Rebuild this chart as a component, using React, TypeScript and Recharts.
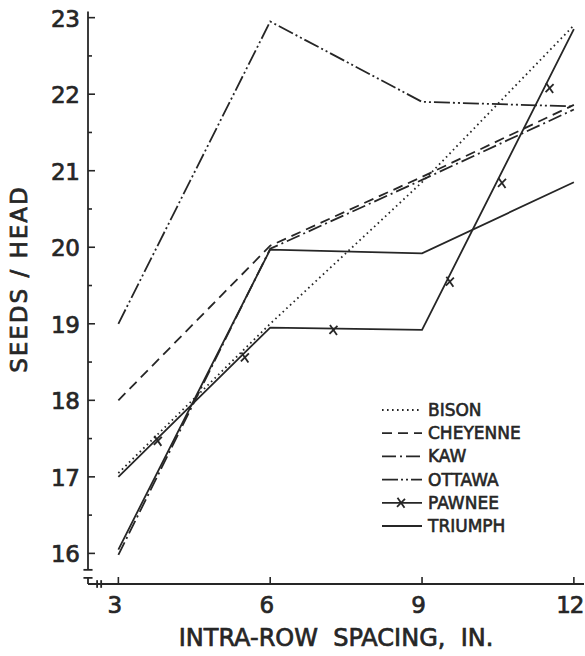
import React from "react";
import {
  ComposedChart,
  Line,
  Scatter,
  XAxis,
  YAxis,
  ReferenceLine,
} from "recharts";

// intra-row spacing (in.) and seeds per head
const spacing = [3, 6, 9, 12];
const bison = [17.05, 19.0, 20.85, 22.9];
const cheyenne = [18.0, 20.02, 20.92, 21.86];
const kaw = [15.98, 19.98, 20.88, 21.8];
const ottawa = [19.0, 22.95, 21.9, 21.84];
const pawnee = [17.0, 18.95, 18.92, 22.85];
const triumph = [16.05, 19.97, 19.92, 20.85];

// positions of the x marks drawn along the Pawnee line
const pawneeMarkX = [3.78, 5.5, 7.25, 9.55, 10.58, 11.52];
const pawneeMarkY = [17.47, 18.56, 18.92, 19.55, 20.84, 22.08];

const xTicks = [3, 6, 9, 12];
const yTicks = [16, 17, 18, 19, 20, 21, 22, 23];
const yMinorTicks = [16.5, 17.5, 18.5, 19.5, 20.5, 21.5, 22.5];

const rows = spacing.map((s, i) => ({
  x: s,
  bison: bison[i],
  cheyenne: cheyenne[i],
  kaw: kaw[i],
  ottawa: ottawa[i],
  pawnee: pawnee[i],
  triumph: triumph[i],
}));
const marks = pawneeMarkX.map((x, i) => ({ x, y: pawneeMarkY[i] }));

const INK = "#262626";
const FONT = "'DejaVu Sans', sans-serif";
const LW = 1.8;

const series = [
  { key: "bison", name: "BISON", dash: "1.6 3.4" },
  { key: "cheyenne", name: "CHEYENNE", dash: "10 6" },
  { key: "kaw", name: "KAW", dash: "14 4 2 4" },
  { key: "ottawa", name: "OTTAWA", dash: "16 3 2 3 2 3" },
  { key: "pawnee", name: "PAWNEE", dash: undefined, mark: true },
  { key: "triumph", name: "TRIUMPH", dash: undefined },
];

const X_MIN = 2.4;
const X_MAX = 12.2;
const Y_MIN = 15.6;
const Y_MAX = 23.1;

// text drawn with a thin outline so it reads as heavy as the lettering
const textInk = { fill: INK, stroke: INK, strokeWidth: 0.7, fontFamily: FONT };

const XMark = (props: any) => {
  const { cx, cy } = props;
  return (
    <g stroke={INK} strokeWidth={LW}>
      <line x1={cx - 3.5} y1={cy - 5} x2={cx + 3.5} y2={cy + 5} />
      <line x1={cx + 4} y1={cy - 4} x2={cx - 4} y2={cy + 4} />
    </g>
  );
};

const YTick = (props: any) => {
  const { x, y, payload } = props;
  const major = yTicks.includes(payload.value);
  return (
    <g>
      <line x1={x} y1={y} x2={x + (major ? 7 : 4)} y2={y} stroke={INK} strokeWidth={1.6} />
      {major && (
        <text x={x - 37} y={y + 9} fontSize={23} textAnchor="start" letterSpacing={-0.5} {...textInk}>
          {payload.value}
        </text>
      )}
    </g>
  );
};

const XTick = (props: any) => {
  const { x, y, payload } = props;
  return (
    <g>
      <line x1={x} y1={y} x2={x} y2={y - 7} stroke={INK} strokeWidth={1.6} />
      <text x={x - 4} y={y + 29} fontSize={23} textAnchor="middle" letterSpacing={-1} {...textInk}>
        {payload.value}
      </text>
    </g>
  );
};

const LegendBox = () => (
  <svg width={200} height={140} style={{ position: "absolute", left: 380, top: 395 }}>
    {series.map((s, i) => {
      const y = 21 + i * 23.2;
      return (
        <g key={s.key}>
          <line x1={2} y1={y - 6} x2={42} y2={y - 6} stroke={INK} strokeWidth={LW} strokeDasharray={s.dash} />
          {s.mark && <XMark cx={21} cy={y - 6} />}
          <text x={48} y={y} fontSize={17} {...textInk} strokeWidth={0.6}>
            {s.name}
          </text>
        </g>
      );
    })}
  </svg>
);

const seg = (x1: number, y1: number, x2: number, y2: number, key: string) => (
  <ReferenceLine
    key={key}
    segment={[{ x: x1, y: y1 }, { x: x2, y: y2 }]}
    stroke={INK}
    strokeWidth={LW}
    ifOverflow="visible"
  />
);

export default function App() {
  return (
    <div style={{ position: "absolute", left: 0, top: 0, width: 585, height: 656, background: "#fff" }}>
      <ComposedChart
        width={585}
        height={656}
        data={rows}
        margin={{ top: 10, right: 1, left: 0, bottom: 0 }}
      >
        <XAxis
          dataKey="x"
          type="number"
          domain={[X_MIN, X_MAX]}
          ticks={xTicks}
          allowDataOverflow
          axisLine={false}
          tickLine={false}
          tickSize={0}
          tickMargin={0}
          height={72}
          tick={<XTick />}
          label={{
            content: () => (
              <text
                x={336}
                y={646}
                textAnchor="middle"
                fontSize={24}
                style={{ whiteSpace: "pre" }}
                {...textInk}
              >
                {"INTRA-ROW  SPACING,  IN."}
              </text>
            ),
          }}
        />
        <YAxis
          type="number"
          domain={[Y_MIN, Y_MAX]}
          ticks={[...yTicks, ...yMinorTicks].sort((a, b) => a - b)}
          allowDataOverflow
          axisLine={false}
          tickLine={false}
          tickSize={0}
          tickMargin={0}
          width={88}
          tick={<YTick />}
          label={{
            content: () => (
              <text
                x={0}
                y={0}
                transform="translate(27 279) rotate(-90)"
                textAnchor="middle"
                fontSize={23}
                letterSpacing={2}
                {...textInk}
              >
                SEEDS / HEAD
              </text>
            ),
          }}
        />

        {/* axes with the broken origin */}
        {seg(X_MIN, 15.785, X_MIN, 23.08, "yaxis")}
        {seg(2.31, 15.785, 2.49, 15.785, "bar1")}
        {seg(2.31, 15.68, 2.49, 15.68, "bar2")}
        {seg(X_MIN, 15.68, X_MIN, Y_MIN, "stub")}
        {seg(X_MIN, Y_MIN, X_MAX, Y_MIN, "xaxis")}
        {seg(2.58, 15.65, 2.58, 15.55, "brk1")}
        {seg(2.66, 15.65, 2.66, 15.55, "brk2")}

        {series.map((s) => (
          <Line
            key={s.key}
            dataKey={s.key}
            name={s.name}
            type="linear"
            stroke={INK}
            strokeWidth={LW}
            strokeDasharray={s.dash}
            dot={false}
            activeDot={false}
            isAnimationActive={false}
          />
        ))}
        <Scatter data={marks} dataKey="y" shape={<XMark />} isAnimationActive={false} />
      </ComposedChart>
      <LegendBox />
    </div>
  );
}
